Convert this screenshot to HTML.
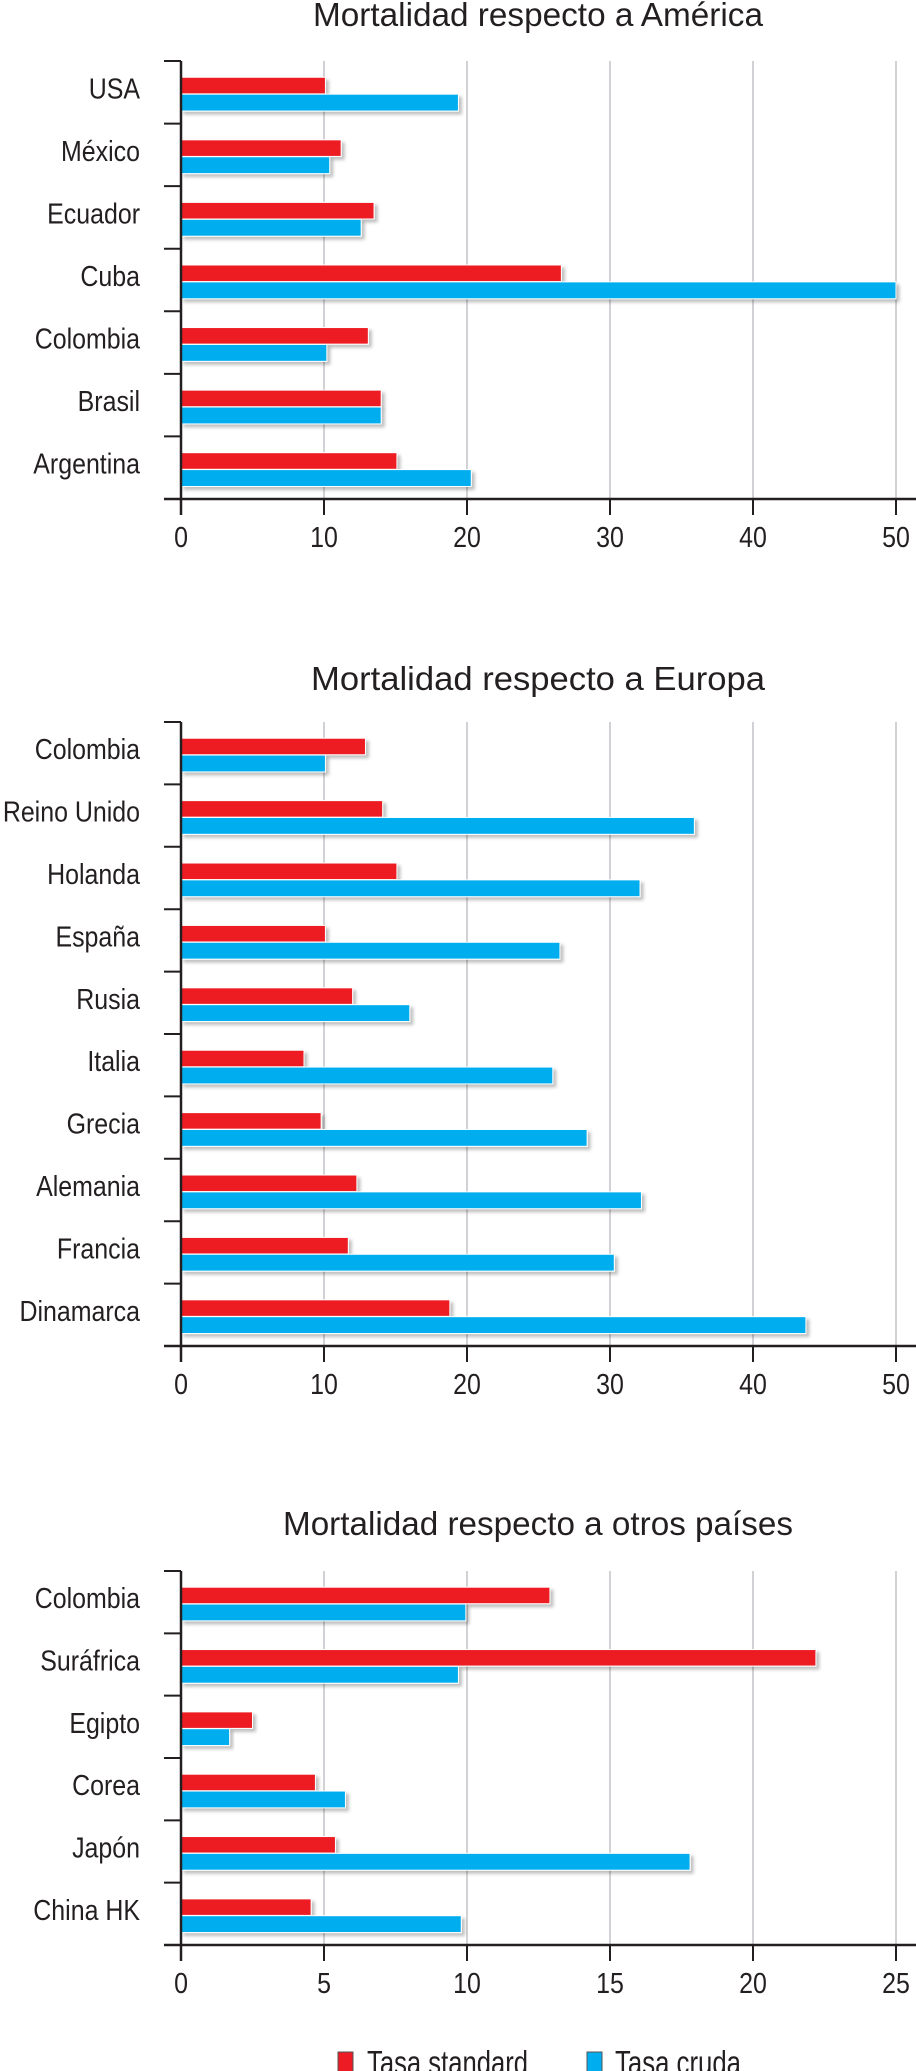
<!DOCTYPE html>
<html><head><meta charset="utf-8">
<style>
html,body{margin:0;padding:0;background:#fff;}
svg{display:block;font-family:"Liberation Sans",sans-serif;}
</style></head>
<body>
<svg id="chart" width="916" height="2071" viewBox="0 0 916 2071" xmlns="http://www.w3.org/2000/svg">
<defs>
<filter id="sh" x="-5%" y="-30%" width="115%" height="180%">
<feDropShadow dx="3" dy="3" stdDeviation="1.5" flood-color="#000" flood-opacity="0.25"/>
</filter>
</defs>
</svg>
<script>
const americaCategories = ["USA","México","Ecuador","Cuba","Colombia","Brasil","Argentina"];
const americaStandard = [10.1,11.2,13.5,26.6,13.1,14.0,15.1];
const americaCrude = [19.4,10.4,12.6,50.0,10.2,14.0,20.3];
const americaTicks = [0,10,20,30,40,50];

const europeCategories = ["Colombia","Reino Unido","Holanda","España","Rusia","Italia","Grecia","Alemania","Francia","Dinamarca"];
const europeStandard = [12.9,14.1,15.1,10.1,12.0,8.6,9.8,12.3,11.7,18.8];
const europeCrude = [10.1,35.9,32.1,26.5,16.0,26.0,28.4,32.2,30.3,43.7];
const europeTicks = [0,10,20,30,40,50];

const otherCategories = ["Colombia","Suráfrica","Egipto","Corea","Japón","China HK"];
const otherStandard = [12.9,22.2,2.5,4.7,5.4,4.55];
const otherCrude = [9.96,9.7,1.7,5.75,17.8,9.8];
const otherTicks = [0,5,10,15,20,25];

const NS = "http://www.w3.org/2000/svg";
const svg = document.getElementById("chart");
const SX = 0.86;
function mk(tag, attrs, parent, text){
  const e = document.createElementNS(NS, tag);
  for (const k in attrs) e.setAttribute(k, attrs[k]);
  if (text !== undefined) e.textContent = text;
  (parent||svg).appendChild(e);
  return e;
}
function ntext(x, y, anchor, size, str, parent){
  return mk("text", {x: 0, y: 0, "text-anchor": anchor, "font-size": size, fill: "#231f20",
    transform: "translate(" + x + "," + y + ") scale(" + SX + ",1)"}, parent, str);
}

function drawChart(key, title, titleY, titleLen, top, bottom, cats, std, crude, ticks){
  const g = mk("g", {});
  
  
  const x0 = 181, x1 = 896;
  const maxV = ticks[ticks.length-1];
  const xs = v => x0 + (v / maxV) * (x1 - x0);
  const band = (bottom - top) / cats.length;
  const t = mk("text", {x: 538, y: titleY, "text-anchor": "middle", "font-size": 33, fill: "#231f20", textLength: titleLen, lengthAdjust: "spacingAndGlyphs"}, g, title);
  
  
  ticks.forEach((tv, i) => {
    if (i > 0) {
      const gl = mk("line", {x1: xs(tv), x2: xs(tv), y1: top, y2: bottom, stroke: "#c4c4c8", "stroke-width": 1.5}, g);
      
      
    }
    const tk = mk("line", {x1: xs(tv), x2: xs(tv), y1: bottom, y2: bottom + 16, stroke: "#231f20", "stroke-width": 2}, g);
    
    
    const tl = ntext(xs(tv), bottom + 48, "middle", 29, String(tv), g);
    
    
  });
  cats.forEach((c, i) => {
    const by = top + i * band;
    const ct = mk("line", {x1: 164, x2: x0, y1: by, y2: by, stroke: "#231f20", "stroke-width": 2}, g);
    
    
    const lb = ntext(140, by + band/2 + 6, "end", 29, c, g);
    
    
    const r = mk("rect", {x: x0, y: by + band*0.26, width: xs(std[i]) - x0, height: band*0.265, fill: "#ed1c24", stroke: "#fff", "stroke-width": 1, filter: "url(#sh)"}, g);
    
    
    const b = mk("rect", {x: x0, y: by + band*0.53, width: xs(crude[i]) - x0, height: band*0.27, fill: "#00aeef", stroke: "#fff", "stroke-width": 1, filter: "url(#sh)"}, g);
    
    
  });
  const ya = mk("line", {x1: x0, x2: x0, y1: top, y2: bottom + 16, stroke: "#231f20", "stroke-width": 2.5}, g);
  
  
  const xa = mk("line", {x1: 164, x2: 916, y1: bottom, y2: bottom, stroke: "#231f20", "stroke-width": 2.5}, g);
  
  
}

drawChart("america", "Mortalidad respecto a América", 26, 450, 61, 499, americaCategories, americaStandard, americaCrude, americaTicks);
drawChart("europe", "Mortalidad respecto a Europa", 690, 454, 722, 1346, europeCategories, europeStandard, europeCrude, europeTicks);
drawChart("other", "Mortalidad respecto a otros países", 1535, 510, 1571, 1945, otherCategories, otherStandard, otherCrude, otherTicks);

const lg = mk("g", {});


const ls = mk("rect", {x: 338, y: 2052, width: 15, height: 22, fill: "#ed1c24", stroke: "#555", "stroke-width": 1}, lg);


const lt = mk("text", {x: 367, y: 2074, "font-size": 33, fill: "#231f20", textLength: 161, lengthAdjust: "spacingAndGlyphs"}, lg, "Tasa standard");


const lc = mk("rect", {x: 587, y: 2052, width: 15, height: 22, fill: "#00aeef", stroke: "#555", "stroke-width": 1}, lg);


const lct = mk("text", {x: 615, y: 2074, "font-size": 33, fill: "#231f20", textLength: 126, lengthAdjust: "spacingAndGlyphs"}, lg, "Tasa cruda");


</script>
</body></html>
